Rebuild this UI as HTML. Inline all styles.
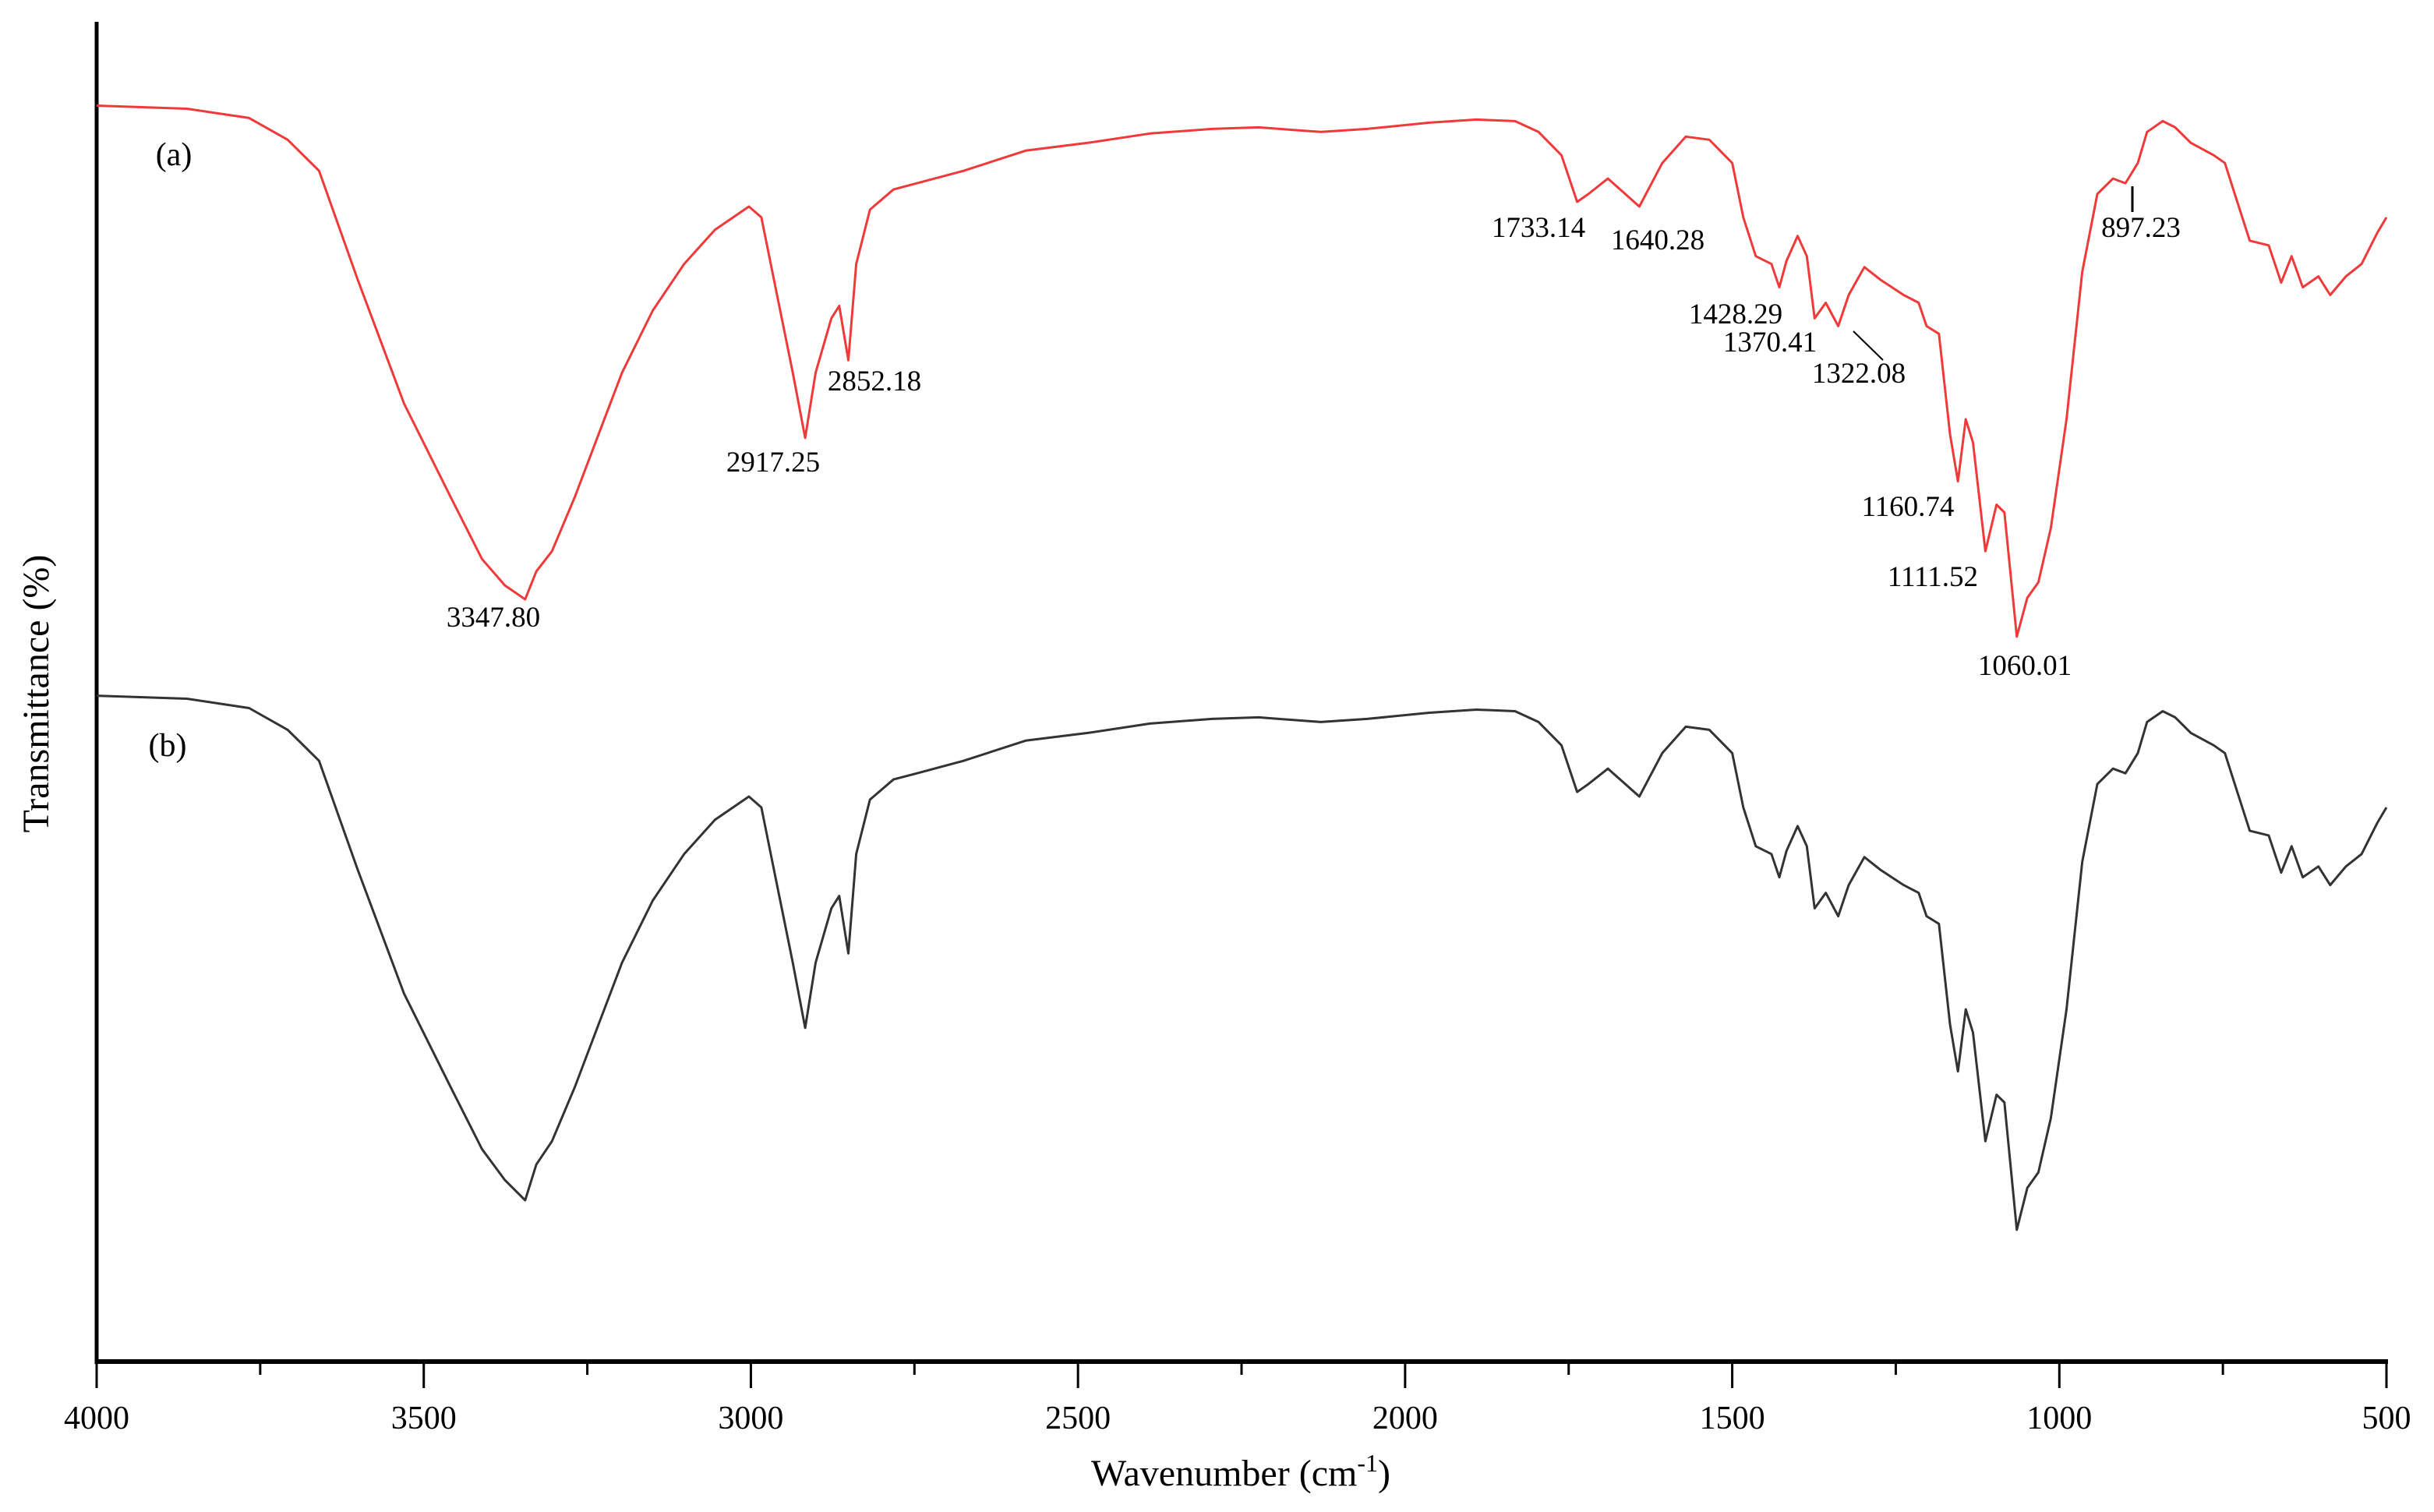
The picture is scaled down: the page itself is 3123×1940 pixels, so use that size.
<!DOCTYPE html>
<html><head><meta charset="utf-8"><style>
html,body{margin:0;padding:0;background:#fff;}
svg{display:block;font-family:"Liberation Serif",serif;}
svg text{font-family:"Liberation Serif",serif;}
</style></head><body>
<svg id="chart" width="3123" height="1940" viewBox="0 0 3123 1940" xmlns="http://www.w3.org/2000/svg">
<g id="axes"></g>
<g id="series"></g>
<g id="labels"></g>
<text x="1592" y="1906" font-size="48" font-family="Liberation Serif, serif" text-anchor="middle">Wavenumber (cm<tspan dy="-18" font-size="32">-1</tspan><tspan dy="18">)</tspan></text>
<text transform="translate(62,890) rotate(-90)" font-size="48" font-family="Liberation Serif, serif" text-anchor="middle">Transmittance (%)</text>
<text x="223" y="212" font-size="42" font-family="Liberation Serif, serif" text-anchor="middle">(a)</text>
<text x="215" y="970" font-size="42" font-family="Liberation Serif, serif" text-anchor="middle">(b)</text>
</svg>
<script>
const wavenumbers=[4000,3862,3767,3708,3660,3601,3530,3459,3411,3376,3345,3328,3304,3269,3233,3197,3150,3102,3055,3003,2984,2960,2936,2917,2901,2877,2865,2851,2839,2818,2782,2746,2675,2580,2485,2390,2295,2224,2129,2058,1963,1891,1832,1796,1761,1737,1720,1690,1642,1607,1571,1535,1500,1483,1464,1440,1428,1417,1400,1386,1374,1357,1338,1322,1298,1274,1238,1215,1203,1184,1167,1155,1143,1132,1113,1096,1084,1065,1049,1032,1013,989,965,942,918,899,880,866,842,823,799,764,747,728,709,680,661,645,628,604,586,562,538,514,500];
const seriesA=[93.2,93.0,92.4,91.0,89.0,82.0,74.0,68.0,64.0,62.3,61.4,63.2,64.5,68.0,72.0,76.0,80.0,83.0,85.2,86.7,86.0,81.0,76.0,71.8,76.0,79.5,80.3,76.8,83.0,86.5,87.8,88.2,89.0,90.3,90.8,91.4,91.7,91.8,91.5,91.7,92.1,92.3,92.2,91.5,90.0,87.0,87.5,88.5,86.7,89.5,91.2,91.0,89.5,86.0,83.5,83.0,81.5,83.2,84.8,83.5,79.5,80.5,79.0,81.0,82.8,82.0,81.0,80.5,79.0,78.5,72.0,69.0,73.0,71.5,64.5,67.5,67.0,59.0,61.5,62.5,66.0,73.0,82.5,87.5,88.5,88.2,89.5,91.5,92.2,91.8,90.8,90.0,89.5,87.0,84.5,84.2,81.8,83.5,81.5,82.2,81.0,82.2,83.0,85.0,86.0];
const seriesB=[55.2,55.0,54.4,53.0,51.0,44.0,36.0,30.0,26.0,24.0,22.7,25.0,26.5,30.0,34.0,38.0,42.0,45.0,47.2,48.7,48.0,43.0,38.0,33.8,38.0,41.5,42.3,38.6,45.0,48.5,49.8,50.2,51.0,52.3,52.8,53.4,53.7,53.8,53.5,53.7,54.1,54.3,54.2,53.5,52.0,49.0,49.5,50.5,48.7,51.5,53.2,53.0,51.5,48.0,45.5,45.0,43.5,45.2,46.8,45.5,41.5,42.5,41.0,43.0,44.8,44.0,43.0,42.5,41.0,40.5,34.0,31.0,35.0,33.5,26.5,29.5,29.0,20.8,23.5,24.5,28.0,35.0,44.5,49.5,50.5,50.2,51.5,53.5,54.2,53.8,52.8,52.0,51.5,49.0,46.5,46.2,43.8,45.5,43.5,44.2,43.0,44.2,45.0,47.0,48.0];
const tickValues=[4000,3500,3000,2500,2000,1500,1000,500];
const minorTicks=[3750,3250,2750,2250,1750,1250,750];
const peakNames=["3347.80","2917.25","2852.18","1733.14","1640.28","1428.29","1370.41","1322.08","1160.74","1111.52","1060.01","897.23"];

const NS="http://www.w3.org/2000/svg";
const X0=124,X1=3062,AXY=1747;
const FF="Liberation Serif, serif";
function xScale(w){return X0+(4000-w)/3500*(X1-X0);}
function yScale(t){return (100-t)/100*1992.3;}
function mk(tag,attrs,parent){const e=document.createElementNS(NS,tag);for(const k in attrs)e.setAttribute(k,attrs[k]);parent.appendChild(e);return e;}

const axes=document.getElementById('axes');
let yl=mk('line',{x1:X0,y1:28,x2:X0,y2:1750,stroke:'#000','stroke-width':5},axes);


let xl=mk('line',{x1:X0-2,y1:AXY,x2:X1+2,y2:AXY,stroke:'#000','stroke-width':6},axes);


tickValues.forEach(v=>{
  const x=xScale(v);
  const t=mk('line',{x1:x,y1:AXY,x2:x,y2:1781,stroke:'#000','stroke-width':3},axes);
  
  
  const lb=mk('text',{x:x,y:1833,'font-size':42,'font-family':FF,'text-anchor':'middle'},axes);
  lb.textContent=v;
  
  
});
minorTicks.forEach(v=>{
  const x=xScale(v);
  const t=mk('line',{x1:x,y1:AXY,x2:x,y2:1764,stroke:'#000','stroke-width':3},axes);
  
  
});

const sg=document.getElementById('series');
function path(vals){return vals.map((v,i)=>(i?'L':'M')+xScale(wavenumbers[i]).toFixed(1)+','+yScale(v).toFixed(1)).join(' ');}
const pa=mk('path',{d:path(seriesA),fill:'none',stroke:'#f03a3a','stroke-width':3,'stroke-linejoin':'round'},sg);


const pb=mk('path',{d:path(seriesB),fill:'none',stroke:'#333','stroke-width':3,'stroke-linejoin':'round'},sg);



const lg=document.getElementById('labels');
const pos=[[633,804],[992,605],[1122,501],[1974,304],[2127,320],[2227,415],[2271,451],[2385,491],[2448,662],[2480,752],[2598,866],[2747,304]];
peakNames.forEach((n,i)=>{
  const t=mk('text',{x:pos[i][0],y:pos[i][1],'font-size':37,'font-family':FF,'text-anchor':'middle'},lg);
  t.textContent=n;
  
  
});
let l1=mk('line',{x1:2378,y1:425,x2:2416,y2:462,stroke:'#000','stroke-width':2},lg);


let l2=mk('line',{x1:2736,y1:239,x2:2736,y2:272,stroke:'#000','stroke-width':3},lg);


</script>
</body></html>
